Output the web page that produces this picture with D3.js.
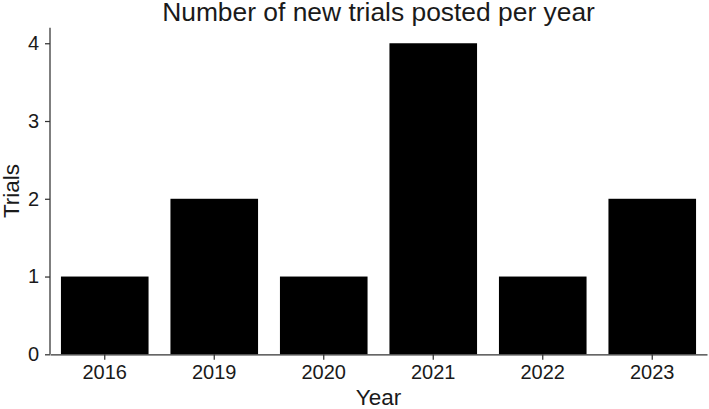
<!DOCTYPE html>
<html><head><meta charset="utf-8">
<script src="https://cdn.jsdelivr.net/npm/d3@7"></script>
<style>body{margin:0;background:#fff}svg{display:block}text{font-family:"Liberation Sans",Arial,sans-serif;fill:#1a1a1a}</style>
</head><body>
<script>
const years = ["2016","2019","2020","2021","2022","2023"];
const trials = [1,2,1,4,1,2];
const yTicks = [0,1,2,3,4];
const W=709,H=409;
const m={left:50,right:2,top:27.7,bottom:54.7};
const svg=d3.select("body").append("svg").attr("width",W).attr("height",H);
const x=d3.scaleBand().domain(years).range([m.left,W-m.right]).paddingInner(0.2).paddingOuter(0.1);
const y=d3.scaleLinear().domain([0,4.2]).range([H-m.bottom,m.top]);
svg.append("g").selectAll("rect").data(years).join("rect")
  .attr("x",d=>x(d)).attr("width",x.bandwidth())
  .attr("y",(d,i)=>y(trials[i])).attr("height",(d,i)=>y(0)-y(trials[i]))
  .attr("fill","#000");
const gx=svg.append("g").attr("transform",`translate(0,${y(0)})`)
  .call(d3.axisBottom(x).tickSize(5.5).tickPadding(5).tickSizeOuter(0));
const gy=svg.append("g").attr("transform",`translate(${m.left},0)`)
  .call(d3.axisLeft(y).tickValues(yTicks).tickFormat(d3.format("d")).tickSize(5).tickPadding(6).tickSizeOuter(0));
[gx,gy].forEach(g=>{
  g.selectAll("path,line").attr("stroke","#333").attr("stroke-width",1.25);
  g.selectAll("text").style("font-size","20px").attr("fill","#1a1a1a");
});
gy.select(".domain").attr("d",`M0,${y(4.2)}V${y(0)}`);
svg.append("text").attr("x",(m.left+W-m.right)/2).attr("y",21).attr("text-anchor","middle")
  .style("font-size","26.4px").text("Number of new trials posted per year");
svg.append("text").attr("x",(m.left+W-m.right)/2).attr("y",405).attr("text-anchor","middle")
  .style("font-size","22.5px").text("Year");
svg.append("text").attr("transform",`translate(19,${(y(0)+y(4.2))/2}) rotate(-90)`).attr("text-anchor","middle")
  .style("font-size","22.5px").text("Trials");
</script>
</body></html>
